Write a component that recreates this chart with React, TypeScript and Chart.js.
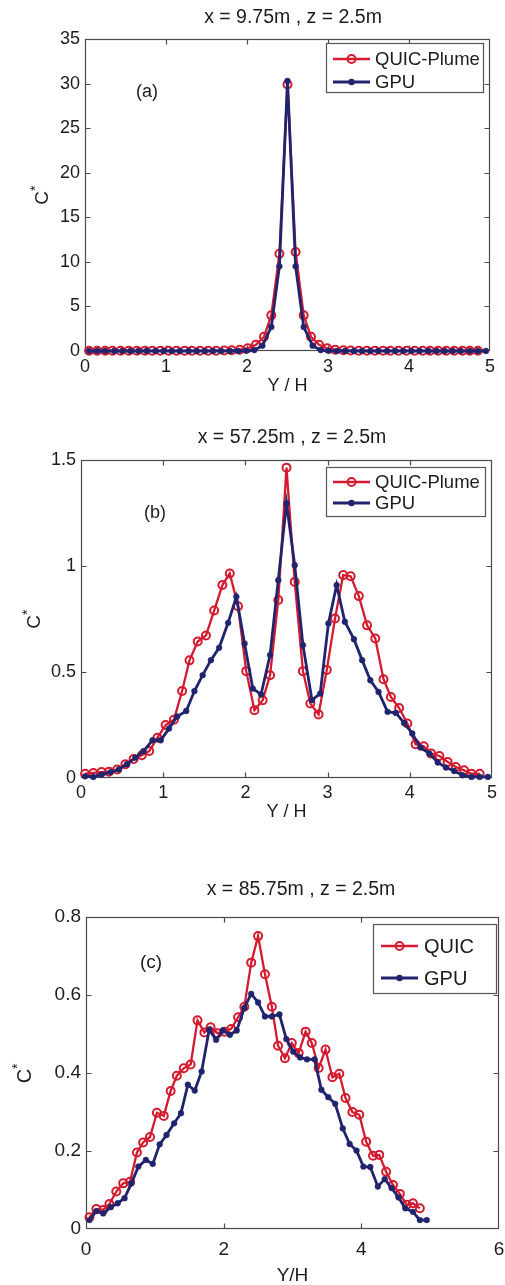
import React, { useEffect, useRef } from "react";
import { Chart, registerables } from "chart.js";
Chart.register(...registerables);

const FONT = "'Liberation Sans', Arial, Helvetica, sans-serif";
const RED = "#d41a2e";
const BLUE = "#20246e";
const TXT = "#1c1c1c";
const W = 505;

// Y/H positions of the samples
const QUIC_X = [0.05, 0.15, 0.25, 0.34, 0.44, 0.54, 0.64, 0.74, 0.83, 0.93, 1.03, 1.13, 1.23, 1.32, 1.42, 1.52, 1.62, 1.72, 1.81, 1.91, 2.01, 2.11, 2.21, 2.3, 2.4, 2.5, 2.6, 2.7, 2.79, 2.89, 2.99, 3.09, 3.19, 3.28, 3.38, 3.48, 3.58, 3.68, 3.77, 3.87, 3.97, 4.07, 4.17, 4.26, 4.36, 4.46, 4.56, 4.66, 4.75, 4.85];
const GPU_X = [0.05, 0.15, 0.25, 0.36, 0.46, 0.56, 0.66, 0.76, 0.87, 0.97, 1.07, 1.17, 1.28, 1.38, 1.48, 1.58, 1.68, 1.79, 1.89, 1.99, 2.09, 2.19, 2.3, 2.4, 2.5, 2.6, 2.7, 2.81, 2.91, 3.01, 3.11, 3.21, 3.32, 3.42, 3.52, 3.62, 3.73, 3.83, 3.93, 4.03, 4.13, 4.24, 4.34, 4.44, 4.54, 4.64, 4.75, 4.85, 4.95];

// Panel (a): x = 9.75m
const A_QUIC = [0.02, 0.02, 0.02, 0.02, 0.02, 0.02, 0.02, 0.02, 0.02, 0.02, 0.02, 0.02, 0.02, 0.02, 0.02, 0.02, 0.03, 0.05, 0.08, 0.15, 0.3, 0.7, 1.6, 4.0, 10.9, 29.9, 11.1, 4.0, 1.6, 0.7, 0.3, 0.15, 0.08, 0.05, 0.02, 0.02, 0.02, 0.02, 0.02, 0.02, 0.02, 0.02, 0.02, 0.02, 0.02, 0.02, 0.02, 0.02, 0.02, 0.02];
const A_GPU = [0, 0, 0, 0, 0, 0, 0, 0, 0, 0, 0, 0, 0, 0, 0, 0, 0, 0, 0, 0.02, 0.1, 0.6, 2.7, 9.5, 30.3, 9.5, 2.7, 0.6, 0.1, 0.02, 0, 0, 0, 0, 0, 0, 0, 0, 0, 0, 0, 0, 0, 0, 0, 0, 0, 0, 0];

// Panel (b): x = 57.25m
const B_QUIC = [0.02, 0.024, 0.028, 0.03, 0.04, 0.065, 0.09, 0.107, 0.127, 0.19, 0.25, 0.275, 0.41, 0.555, 0.644, 0.672, 0.79, 0.91, 0.965, 0.81, 0.504, 0.32, 0.367, 0.485, 0.84, 1.464, 0.925, 0.504, 0.351, 0.3, 0.51, 0.752, 0.957, 0.952, 0.858, 0.72, 0.658, 0.466, 0.382, 0.33, 0.257, 0.159, 0.15, 0.115, 0.104, 0.076, 0.052, 0.036, 0.02, 0.02];
const B_GPU = [0.008, 0.005, 0.016, 0.028, 0.04, 0.065, 0.096, 0.127, 0.178, 0.178, 0.233, 0.29, 0.316, 0.41, 0.485, 0.556, 0.614, 0.732, 0.855, 0.634, 0.422, 0.394, 0.58, 0.933, 1.295, 1.004, 0.627, 0.367, 0.398, 0.729, 0.91, 0.737, 0.655, 0.556, 0.461, 0.406, 0.312, 0.307, 0.26, 0.21, 0.144, 0.115, 0.073, 0.049, 0.033, 0.013, 0.005, 0.005, 0.005];

// Panel (c): x = 85.75m
const C_QUIC = [0.03, 0.051, 0.049, 0.064, 0.096, 0.117, 0.121, 0.196, 0.222, 0.236, 0.298, 0.29, 0.354, 0.393, 0.412, 0.422, 0.535, 0.504, 0.517, 0.502, 0.506, 0.513, 0.543, 0.57, 0.683, 0.751, 0.653, 0.57, 0.47, 0.438, 0.477, 0.451, 0.506, 0.477, 0.413, 0.46, 0.389, 0.398, 0.336, 0.3, 0.293, 0.224, 0.188, 0.19, 0.147, 0.113, 0.09, 0.062, 0.066, 0.053];
const C_GPU = [0.023, 0.046, 0.04, 0.056, 0.066, 0.079, 0.117, 0.16, 0.177, 0.167, 0.217, 0.241, 0.271, 0.297, 0.37, 0.355, 0.404, 0.511, 0.485, 0.509, 0.498, 0.509, 0.567, 0.603, 0.581, 0.545, 0.545, 0.55, 0.487, 0.455, 0.44, 0.435, 0.435, 0.357, 0.338, 0.321, 0.258, 0.218, 0.201, 0.16, 0.159, 0.109, 0.128, 0.105, 0.081, 0.053, 0.044, 0.023, 0.023];

const TITLES = ["x = 9.75m , z = 2.5m", "x = 57.25m , z = 2.5m", "x = 85.75m , z = 2.5m"];
const PANEL_LABELS = ["(a)", "(b)", "(c)"];
const QUIC_NAMES = ["QUIC-Plume", "QUIC-Plume", "QUIC"];
const GPU_NAME = "GPU";
const X_TITLES = ["Y / H", "Y / H", "Y/H"];
const X_MAX = [5, 5, 6];
const X_STEP = [1, 1, 2];
const Y_MAX = [35, 1.5, 0.8];
const Y_STEP = [5, 0.5, 0.2];

type Cfg = {
  offset: number; height: number;
  left: number; right: number; top: number; bottom: number;
  fs: number; titleFs: number; legFs: number;
  titleX: number; titleY: number;
  xTickPad: number; xTitlePad: number;
  yTitleX: number; labelX: number; labelY: number;
  leg: { x1: number; y1: number; x2: number; y2: number; rows: number[]; l1: number; l2: number; tx: number };
};

const LAYOUTS: Cfg[] = [
  { offset: 0, height: 400, left: 85, right: 490, top: 39, bottom: 351, fs: 18, titleFs: 19.5, legFs: 18.5,
    titleX: 293, titleY: 18, xTickPad: 5, xTitlePad: 3, yTitleX: 43, labelX: 147, labelY: 92,
    leg: { x1: 326, y1: 43, x2: 484, y2: 93, rows: [59, 82], l1: 333, l2: 370, tx: 375 } },
  { offset: 410, height: 420, left: 81, right: 492, top: 50, bottom: 368, fs: 18, titleFs: 19.5, legFs: 18.5,
    titleX: 292, titleY: 28, xTickPad: 4, xTitlePad: 7, yTitleX: 35, labelX: 155, labelY: 103,
    leg: { x1: 326, y1: 57, x2: 486, y2: 107, rows: [72, 93], l1: 333, l2: 370, tx: 375 } },
  { offset: 840, height: 445, left: 86, right: 502, top: 77, bottom: 389, fs: 19, titleFs: 19.5, legFs: 20,
    titleX: 301, titleY: 50, xTickPad: 9, xTitlePad: -2, yTitleX: 25, labelX: 151, labelY: 123,
    leg: { x1: 373, y1: 84, x2: 497, y2: 154, rows: [106, 138], l1: 381, l2: 418, tx: 424 } },
];

const fmt = (v: number) => String(Math.round(v * 1000) / 1000);

function drawMarker(ctx: CanvasRenderingContext2D, x: number, y: number, quic: boolean) {
  ctx.beginPath();
  if (quic) {
    ctx.arc(x, y, 4, 0, Math.PI * 2);
    ctx.strokeStyle = RED;
    ctx.lineWidth = 2;
    ctx.stroke();
  } else {
    ctx.arc(x, y, 3.2, 0, Math.PI * 2);
    ctx.fillStyle = BLUE;
    ctx.fill();
  }
}

const decor = {
  id: "decor",
  beforeDatasetsDraw(chart: any) {
    const { ctx, chartArea } = chart;
    const L = Math.round(chartArea.left) + 0.5;
    const R = Math.round(chartArea.right) - 0.5;
    const T = Math.round(chartArea.top) + 0.5;
    const B = Math.round(chartArea.bottom) - 0.5;
    ctx.save();
    ctx.strokeStyle = "#4a4a4a";
    ctx.lineWidth = 1.2;
    ctx.strokeRect(L, T, R - L, B - T);
    const tl = 5;
    const xs = chart.scales.x;
    xs.ticks.forEach((t: any) => {
      const px = Math.round(xs.getPixelForValue(t.value)) + 0.5;
      if (px <= L + 1 || px >= R - 1) return;
      ctx.beginPath();
      ctx.moveTo(px, B); ctx.lineTo(px, B - tl);
      ctx.moveTo(px, T); ctx.lineTo(px, T + tl);
      ctx.stroke();
    });
    const ys = chart.scales.y;
    ys.ticks.forEach((t: any) => {
      const py = Math.round(ys.getPixelForValue(t.value)) + 0.5;
      if (py <= T + 1 || py >= B - 1) return;
      ctx.beginPath();
      ctx.moveTo(L, py); ctx.lineTo(L + tl, py);
      ctx.moveTo(R, py); ctx.lineTo(R - tl, py);
      ctx.stroke();
    });
    ctx.restore();
  },
  afterDraw(chart: any, _a: any, o: any) {
    const { ctx, chartArea } = chart;
    const c: Cfg = o.cfg;
    ctx.save();
    ctx.fillStyle = TXT;
    ctx.textBaseline = "middle";
    // title
    ctx.font = `${c.titleFs}px ${FONT}`;
    ctx.textAlign = "center";
    ctx.fillText(o.title, c.titleX, c.titleY);
    // panel label
    ctx.font = `${c.fs}px ${FONT}`;
    ctx.fillText(o.label, c.labelX, c.labelY);
    // y title C*
    const cy = (chartArea.top + chartArea.bottom) / 2;
    ctx.save();
    ctx.translate(c.yTitleX, cy);
    ctx.rotate(-Math.PI / 2);
    ctx.font = `${c.fs + 1}px ${FONT}`;
    ctx.textAlign = "center";
    ctx.fillText("C", -3, 0);
    ctx.font = `${Math.round(c.fs * 0.75)}px ${FONT}`;
    ctx.textAlign = "left";
    ctx.fillText("*", 4, -7);
    ctx.restore();
    // legend
    const g = c.leg;
    ctx.fillStyle = "#ffffff";
    ctx.fillRect(g.x1, g.y1, g.x2 - g.x1, g.y2 - g.y1);
    ctx.strokeStyle = "#555555";
    ctx.lineWidth = 1.2;
    ctx.strokeRect(g.x1 + 0.5, g.y1 + 0.5, g.x2 - g.x1 - 1, g.y2 - g.y1 - 1);
    const ds = chart.data.datasets;
    ds.forEach((d: any, i: number) => {
      const y = g.rows[i];
      ctx.beginPath();
      ctx.moveTo(g.l1, y); ctx.lineTo(g.l2, y);
      ctx.strokeStyle = d.borderColor;
      ctx.lineWidth = d.borderWidth;
      ctx.stroke();
      drawMarker(ctx, (g.l1 + g.l2) / 2, y, i === 0);
      ctx.fillStyle = TXT;
      ctx.font = `${c.legFs}px ${FONT}`;
      ctx.textAlign = "left";
      ctx.textBaseline = "middle";
      ctx.fillText(d.label, g.tx, y + 1);
    });
    ctx.restore();
  },
};

function Panel({ idx, quic, gpu }: { idx: number; quic: number[]; gpu: number[] }) {
  const ref = useRef<HTMLCanvasElement>(null);
  const c = LAYOUTS[idx];
  useEffect(() => {
    const tickFont = { family: FONT, size: c.fs };
    const chart = new Chart(ref.current as HTMLCanvasElement, {
      type: "line",
      data: {
        datasets: [
          {
            label: QUIC_NAMES[idx],
            data: QUIC_X.map((x, i) => ({ x, y: quic[i] })),
            borderColor: RED, backgroundColor: RED, borderWidth: 2.3,
            pointRadius: 4, pointBorderWidth: 2, pointBorderColor: RED,
            pointBackgroundColor: "rgba(255,255,255,0)", tension: 0, clip: false as any, order: 2,
          },
          {
            label: GPU_NAME,
            data: GPU_X.map((x, i) => ({ x, y: gpu[i] })),
            borderColor: BLUE, backgroundColor: BLUE, borderWidth: 2.8,
            pointRadius: 2.9, pointBorderWidth: 0.5, pointBorderColor: BLUE,
            pointBackgroundColor: BLUE, tension: 0, clip: false as any, order: 1,
          },
        ],
      },
      options: {
        responsive: false,
        animation: false,
        events: [],
        layout: { padding: { top: c.top, right: W - c.right, left: 0, bottom: 0 } },
        plugins: {
          legend: { display: false },
          tooltip: { enabled: false },
          title: { display: false },
          decor: { cfg: c, title: TITLES[idx], label: PANEL_LABELS[idx] },
        } as any,
        scales: {
          x: {
            type: "linear", min: 0, max: X_MAX[idx],
            ticks: { stepSize: X_STEP[idx], font: tickFont, color: TXT, padding: c.xTickPad, maxRotation: 0, autoSkip: false, callback: (v: any) => fmt(Number(v)) },
            grid: { display: false, drawTicks: false, tickLength: 0 },
            border: { display: false },
            title: { display: true, text: X_TITLES[idx], font: { family: FONT, size: c.fs }, color: TXT, padding: { top: 0, bottom: c.xTitlePad } },
            afterFit: (s: any) => { s.height = c.height - c.bottom; s.paddingLeft = 0; s.paddingRight = 0; },
          },
          y: {
            type: "linear", min: 0, max: Y_MAX[idx],
            ticks: { stepSize: Y_STEP[idx], font: tickFont, color: TXT, padding: 5, autoSkip: false, callback: (v: any) => fmt(Number(v)) },
            grid: { display: false, drawTicks: false, tickLength: 0 },
            border: { display: false },
            afterFit: (s: any) => { s.width = c.left; s.paddingTop = 0; s.paddingBottom = 0; },
          },
        } as any,
      },
      plugins: [decor as any],
    });
    return () => chart.destroy();
  }, []);
  return (
    <canvas
      ref={ref}
      width={W}
      height={c.height}
      style={{ position: "absolute", left: 0, top: c.offset, width: W, height: c.height }}
    />
  );
}

export default function App() {
  return (
    <div style={{ position: "absolute", left: 0, top: 0, width: W, height: 1285, background: "#ffffff", overflow: "hidden" }}>
      <Panel idx={0} quic={A_QUIC} gpu={A_GPU} />
      <Panel idx={1} quic={B_QUIC} gpu={B_GPU} />
      <Panel idx={2} quic={C_QUIC} gpu={C_GPU} />
    </div>
  );
}
